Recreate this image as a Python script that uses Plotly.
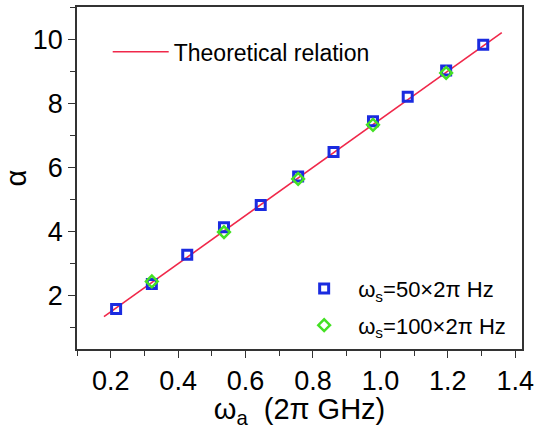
import plotly.graph_objects as go

# data
w_line = [0.18, 1.36]
alpha_line = [1.35, 10.22]

w_50 = [0.216, 0.322, 0.427, 0.536, 0.645, 0.756, 0.861, 0.978, 1.081, 1.195, 1.305]
alpha_50 = [1.59, 2.37, 3.28, 4.14, 4.84, 5.73, 6.49, 7.45, 8.22, 9.04, 9.84]

w_100 = [0.322, 0.536, 0.756, 0.978, 1.195]
alpha_100 = [2.45, 3.99, 5.65, 7.34, 8.96]

x_ticks = [0.2, 0.4, 0.6, 0.8, 1.0, 1.2, 1.4]
y_ticks = [2, 4, 6, 8, 10]

FONT = "Arial, Liberation Sans, sans-serif"
RED = "#f0284a"
BLUE = "#1a2be0"
GREEN = "#44e024"

fig = go.Figure()
fig.add_trace(go.Scatter(x=w_line, y=alpha_line, mode="lines",
                         line=dict(color=RED, width=1.6),
                         name="Theoretical relation", legend="legend",
                         showlegend=True))
fig.add_trace(go.Scatter(x=w_50, y=alpha_50, mode="markers",
                         marker=dict(symbol="square-open", size=9, color=BLUE,
                                     line=dict(width=3, color=BLUE)),
                         name="ω<sub>s</sub>=50×2π Hz", legend="legend2",
                         legendgroup="a", showlegend=True))
fig.add_trace(go.Scatter(x=w_100, y=alpha_100, mode="markers",
                         marker=dict(symbol="diamond-open", size=9, color=GREEN,
                                     line=dict(width=2.5, color=GREEN)),
                         name="ω<sub>s</sub>=100×2π Hz", legend="legend2",
                         legendgroup="b", showlegend=True))

axis_common = dict(showline=True, linecolor="#333333", linewidth=1.5, mirror=True,
                   ticks="outside", ticklen=7, tickwidth=1.3, tickcolor="#333333",
                   showgrid=False, zeroline=False, automargin=False,
                   tickfont=dict(family=FONT, size=27, color="black"))

fig.update_xaxes(range=[0.1, 1.42], tickvals=x_ticks,
                 ticktext=[f"{v:.1f}" for v in x_ticks],
                 minor=dict(dtick=0.1, tick0=0.1, ticks="outside", ticklen=5,
                            tickwidth=1.3, tickcolor="#333333", showgrid=False),
                 title=dict(text="ω<sub>a</sub>  (2π GHz)", standoff=22,
                            font=dict(family=FONT, size=29, color="black")),
                 **axis_common)
fig.update_yaxes(range=[0.34, 11.02], tickvals=y_ticks,
                 minor=dict(dtick=1, tick0=1, ticks="outside", ticklen=5,
                            tickwidth=1.3, tickcolor="#333333", showgrid=False),
                 title=dict(text="α", standoff=14,
                            font=dict(family=FONT, size=29, color="black")),
                 **axis_common)

fig.update_layout(
    width=535, height=429,
    margin=dict(l=77, r=13, t=7, b=80),
    plot_bgcolor="white", paper_bgcolor="white",
    font=dict(family=FONT, color="black"),
    showlegend=True,
    legend=dict(x=0.069, y=0.869, xanchor="left", yanchor="middle",
                bgcolor="rgba(0,0,0,0)", font=dict(family=FONT, size=23),
                itemwidth=56),
    legend2=dict(x=0.479, y=0.122, xanchor="left", yanchor="middle",
                 bgcolor="rgba(0,0,0,0)", font=dict(family=FONT, size=22),
                 tracegroupgap=5, itemwidth=58),
)

fig.write_html("out.html", config={"displayModeBar": False},
               post_script="document.body.style.margin='0';document.body.style.overflow='hidden';")
